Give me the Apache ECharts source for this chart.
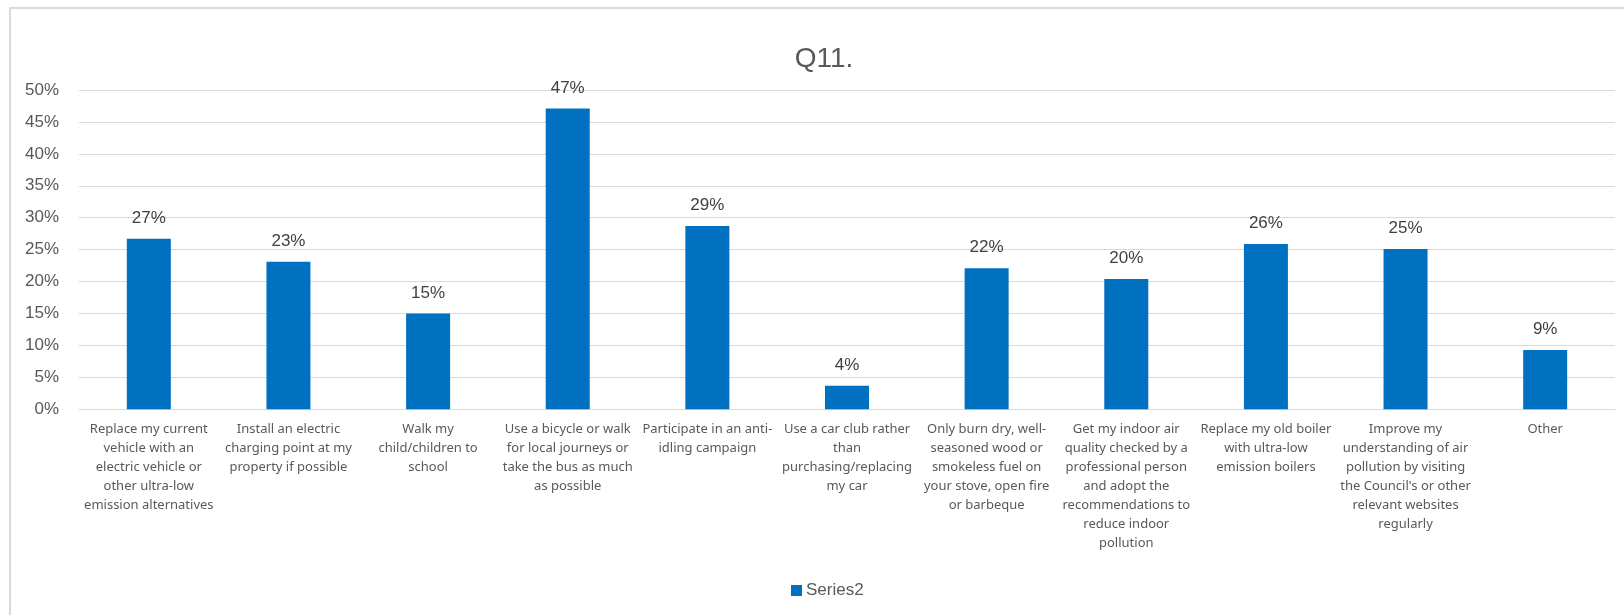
<!DOCTYPE html>
<html>
<head>
<meta charset="utf-8">
<script src="https://cdn.jsdelivr.net/npm/echarts@6/dist/echarts.min.js"></script>
<style>
html,body{margin:0;padding:0;background:#fff;}
#chart{width:1624px;height:615px;}
</style>
</head>
<body>
<div id="chart"></div>
<script>
const titleText = 'Q11.';
const seriesName = 'Series2';
const categories = [
  'Replace my current\nvehicle with an\nelectric vehicle or\nother ultra-low\nemission alternatives',
  'Install an electric\ncharging point at my\nproperty if possible',
  'Walk my\nchild/children to\nschool',
  'Use a bicycle or walk\nfor local journeys or\ntake the bus as much\nas possible',
  'Participate in an anti-\nidling campaign',
  'Use a car club rather\nthan\npurchasing/replacing\nmy car',
  'Only burn dry, well-\nseasoned wood or\nsmokeless fuel on\nyour stove, open fire\nor barbeque',
  'Get my indoor air\nquality checked by a\nprofessional person\nand adopt the\nrecommendations to\nreduce indoor\npollution',
  'Replace my old boiler\nwith ultra-low\nemission boilers',
  'Improve my\nunderstanding of air\npollution by visiting\nthe Council\'s or other\nrelevant websites\nregularly',
  'Other'
];
const values = [26.7, 23.1, 15.0, 47.1, 28.7, 3.7, 22.1, 20.4, 25.9, 25.1, 9.3];
const yTicks = { min: 0, max: 50, interval: 5 };

const chart = echarts.init(document.getElementById('chart'), null, { renderer: 'canvas' });
chart.setOption({
  animation: false,
  backgroundColor: '#fff',
  graphic: [{
    type: 'rect',
    shape: { x: 10, y: 8, width: 1700, height: 700 },
    style: { fill: 'none', stroke: '#d9d9d9', lineWidth: 2 },
    silent: true, z: -10
  }],
  title: {
    text: titleText,
    left: 819, top: 40, textAlign: 'center',
    textStyle: { fontFamily: 'Liberation Sans', fontSize: 28, fontWeight: 'normal', color: '#595959' }
  },
  legend: {
    data: [seriesName],
    left: 786, top: 577,
    itemWidth: 11, itemHeight: 11, itemGap: 10,
    icon: 'rect',
    textStyle: { fontFamily: 'Liberation Sans', fontSize: 17, color: '#595959', padding: [0,0,0,-1] }
  },
  grid: { left: 79, right: 9, top: 90, height: 319.3, containLabel: false },
  xAxis: {
    type: 'category',
    data: categories,
    axisLine: { show: true, lineStyle: { color: '#d9d9d9', width: 1 } },
    axisTick: { show: false },
    axisLabel: {
      interval: 0,
      margin: 10,
      fontFamily: 'Noto Sans',
      fontSize: 13,
      lineHeight: 19,
      color: '#595959',
      verticalAlign: 'top'
    }
  },
  yAxis: {
    type: 'value',
    min: yTicks.min, max: yTicks.max, interval: yTicks.interval,
    axisLine: { show: false },
    axisTick: { show: false },
    splitLine: { lineStyle: { color: '#d9d9d9', width: 1 } },
    axisLabel: {
      margin: 20,
      fontFamily: 'Liberation Sans', fontSize: 17, color: '#595959',
      formatter: v => v + '%'
    }
  },
  series: [{
    name: seriesName,
    type: 'bar',
    data: values,
    barWidth: 44,
    itemStyle: { color: '#0070C0' },
    label: {
      show: true, position: 'top', distance: 12,
      fontFamily: 'Liberation Sans', fontSize: 17, color: '#404040',
      formatter: p => Math.round(p.value) + '%'
    }
  }]
});
</script>
</body>
</html>
